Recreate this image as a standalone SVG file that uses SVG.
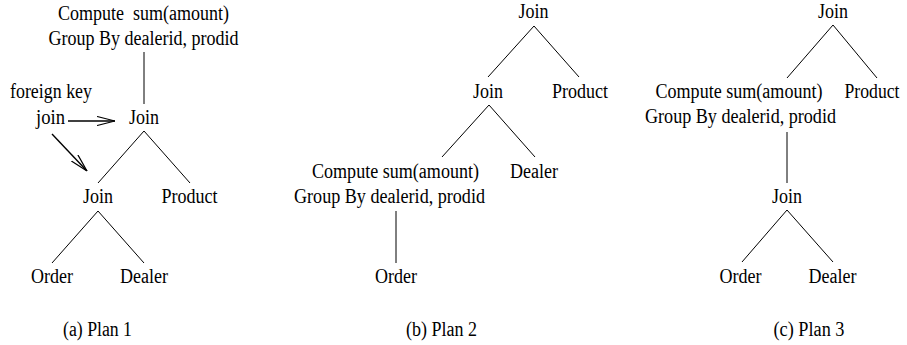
<svg xmlns="http://www.w3.org/2000/svg" width="907" height="345" viewBox="0 0 907 345">
<defs>
<style>
text{font-family:"Liberation Serif","Times New Roman",serif;font-size:20px;fill:#000;text-anchor:middle;white-space:pre}
.s{text-anchor:start}
line{stroke:#000;stroke-width:1;fill:none}
.arr{stroke-width:1.4}
</style>
<marker id="ah" viewBox="0 0 18 10" refX="18" refY="5" markerWidth="18" markerHeight="10" markerUnits="userSpaceOnUse" orient="auto">
<path d="M0,0.5 L18,5 L0,9.5" fill="none" stroke="#000" stroke-width="1.2"/>
</marker>
</defs>
<rect width="907" height="345" fill="#fff"/>

<g id="connectors">
<line x1="144" y1="52" x2="144" y2="104"/>
<line x1="144" y1="131" x2="98" y2="183"/>
<line x1="144" y1="131" x2="190" y2="183"/>
<line x1="98" y1="211" x2="52" y2="263"/>
<line x1="98" y1="211" x2="144" y2="263"/>
<line class="arr" x1="68" y1="121" x2="115" y2="121" marker-end="url(#ah)"/>
<line class="arr" x1="52" y1="134" x2="87" y2="171" marker-end="url(#ah)"/>

<line x1="534" y1="26" x2="488" y2="77"/>
<line x1="534" y1="26" x2="579" y2="77"/>
<line x1="489" y1="105" x2="442" y2="157"/>
<line x1="489" y1="105" x2="535" y2="157"/>
<line x1="396" y1="211" x2="396" y2="263"/>

<line x1="833" y1="25" x2="787" y2="78"/>
<line x1="833" y1="25" x2="877" y2="78"/>
<line x1="787" y1="132" x2="787" y2="183"/>
<line x1="787" y1="210" x2="742" y2="262"/>
<line x1="787" y1="210" x2="833" y2="262"/>
</g>

<g id="plan1">
<g id="p1-agg"><text x="143.5" y="20" textLength="171" lengthAdjust="spacingAndGlyphs">Compute  sum(amount)</text>
<text x="143.5" y="45" textLength="190" lengthAdjust="spacingAndGlyphs">Group By dealerid, prodid</text></g>
<g id="p1-fk"><text class="s" x="10" y="98" textLength="82" lengthAdjust="spacingAndGlyphs">foreign key</text>
<text class="s" x="36" y="124" textLength="29" lengthAdjust="spacingAndGlyphs">join</text></g>
<g id="p1-join1"><text x="144" y="124" textLength="30" lengthAdjust="spacingAndGlyphs">Join</text></g>
<g id="p1-join2"><text x="98" y="203" textLength="30" lengthAdjust="spacingAndGlyphs">Join</text></g>
<g id="p1-product"><text x="189.5" y="203" textLength="56" lengthAdjust="spacingAndGlyphs">Product</text></g>
<g id="p1-order"><text x="52" y="283" textLength="42" lengthAdjust="spacingAndGlyphs">Order</text></g>
<g id="p1-dealer"><text x="144" y="283" textLength="48" lengthAdjust="spacingAndGlyphs">Dealer</text></g>
<text x="97.5" y="336" textLength="69" lengthAdjust="spacingAndGlyphs">(a) Plan 1</text>
</g>

<g id="plan2">
<g id="p2-join1"><text x="533.5" y="18" textLength="30" lengthAdjust="spacingAndGlyphs">Join</text></g>
<g id="p2-join2"><text x="488" y="98" textLength="30" lengthAdjust="spacingAndGlyphs">Join</text></g>
<g id="p2-product"><text x="580" y="98" textLength="56" lengthAdjust="spacingAndGlyphs">Product</text></g>
<g id="p2-agg"><text x="395.5" y="178" textLength="167" lengthAdjust="spacingAndGlyphs">Compute sum(amount)</text>
<text x="389.5" y="203" textLength="191" lengthAdjust="spacingAndGlyphs">Group By dealerid, prodid</text></g>
<g id="p2-dealer"><text x="534" y="178" textLength="48" lengthAdjust="spacingAndGlyphs">Dealer</text></g>
<g id="p2-order"><text x="396" y="283" textLength="42" lengthAdjust="spacingAndGlyphs">Order</text></g>
<text x="441.5" y="336" textLength="71" lengthAdjust="spacingAndGlyphs">(b) Plan 2</text>
</g>

<g id="plan3">
<g id="p3-join1"><text x="833" y="18" textLength="30" lengthAdjust="spacingAndGlyphs">Join</text></g>
<g id="p3-agg"><text x="739" y="98" textLength="167" lengthAdjust="spacingAndGlyphs">Compute sum(amount)</text>
<text x="740.5" y="123" textLength="191" lengthAdjust="spacingAndGlyphs">Group By dealerid, prodid</text></g>
<g id="p3-product"><text x="872" y="98" textLength="55" lengthAdjust="spacingAndGlyphs">Product</text></g>
<g id="p3-join2"><text x="787" y="203" textLength="30" lengthAdjust="spacingAndGlyphs">Join</text></g>
<g id="p3-order"><text x="740.5" y="283" textLength="42" lengthAdjust="spacingAndGlyphs">Order</text></g>
<g id="p3-dealer"><text x="832.5" y="283" textLength="48" lengthAdjust="spacingAndGlyphs">Dealer</text></g>
<text x="809" y="336" textLength="71" lengthAdjust="spacingAndGlyphs">(c) Plan 3</text>
</g>
</svg>
